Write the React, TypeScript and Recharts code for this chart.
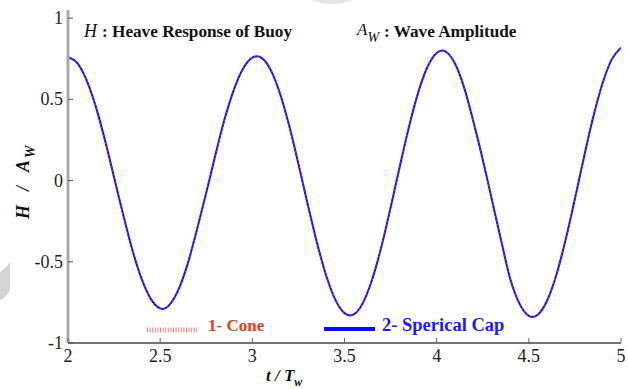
import {
  LineChart, Line, XAxis, YAxis,
} from 'recharts'

// t / T_w sample points
const tValues = [
  2.0, 2.05, 2.1, 2.15, 2.2, 2.25, 2.3, 2.35, 2.4, 2.45, 2.5, 2.515,
  2.55, 2.6, 2.65, 2.7, 2.75, 2.8, 2.85, 2.9, 2.95, 3.0, 3.025,
  3.05, 3.1, 3.15, 3.2, 3.25, 3.3, 3.35, 3.4, 3.45, 3.5, 3.53,
  3.55, 3.6, 3.65, 3.7, 3.75, 3.8, 3.85, 3.9, 3.95, 4.0, 4.03,
  4.05, 4.1, 4.15, 4.2, 4.25, 4.3, 4.35, 4.4, 4.45, 4.5, 4.52,
  4.55, 4.6, 4.65, 4.7, 4.75, 4.8, 4.85, 4.9, 4.95, 5.0,
]

// H / A_w for the spherical cap buoy
const capValues = [
  0.76, 0.724, 0.62, 0.458, 0.251, 0.02, -0.213, -0.43, -0.607, -0.73, -0.787, -0.79,
  -0.765, -0.67, -0.51, -0.3, -0.075, 0.16, 0.38, 0.56, 0.69, 0.757, 0.765,
  0.755, 0.68, 0.536, 0.337, 0.103, -0.144, -0.38, -0.583, -0.733, -0.816, -0.83,
  -0.824, -0.753, -0.609, -0.408, -0.167, 0.087, 0.332, 0.543, 0.699, 0.785, 0.8,
  0.793, 0.719, 0.569, 0.359, 0.13, -0.12, -0.37, -0.609, -0.759, -0.833, -0.84,
  -0.825, -0.737, -0.578, -0.362, -0.112, 0.148, 0.394, 0.599, 0.746, 0.818,
]

// H / A_w for the cone buoy (practically on top of the cap curve)
const coneValues = [
  0.758, 0.722, 0.618, 0.456, 0.25, 0.019, -0.214, -0.431, -0.608, -0.731, -0.788, -0.791,
  -0.766, -0.671, -0.511, -0.301, -0.076, 0.159, 0.379, 0.559, 0.689, 0.756, 0.764,
  0.754, 0.679, 0.535, 0.336, 0.102, -0.145, -0.381, -0.584, -0.734, -0.817, -0.831,
  -0.825, -0.754, -0.61, -0.409, -0.168, 0.086, 0.331, 0.542, 0.698, 0.784, 0.799,
  0.792, 0.718, 0.568, 0.358, 0.129, -0.121, -0.371, -0.61, -0.76, -0.834, -0.841,
  -0.826, -0.738, -0.579, -0.363, -0.113, 0.147, 0.393, 0.598, 0.745, 0.817,
]

const xTicks = [2, 2.5, 3, 3.5, 4, 4.5, 5]
const yTicks = [-1, -0.5, 0, 0.5, 1]

const data = tValues.map((t, i) => ({ t, cap: capValues[i], cone: coneValues[i] }))

const SERIF = '"Liberation Serif", "DejaVu Serif", serif'
const TICK_COLOR = '#222'

function BottomTick({ x, y, payload }: any) {
  return (
    <g>
      <line x1={x} y1={y} x2={x} y2={y - 5} stroke="#666" strokeWidth={1} />
      <text x={x} y={y + 19} textAnchor="middle" fontFamily={SERIF} fontSize={18} fill={TICK_COLOR}>
        {payload.value}
      </text>
    </g>
  )
}

function TopTick({ x, y }: any) {
  return <line x1={x} y1={y} x2={x} y2={y + 5} stroke="#666" strokeWidth={1} />
}

function LeftTick({ x, y, payload }: any) {
  return (
    <g>
      <line x1={x} y1={y} x2={x + 5} y2={y} stroke="#555" strokeWidth={1} />
      <text x={x - 5} y={y + 6} textAnchor="end" fontFamily={SERIF} fontSize={18} fill={TICK_COLOR}>
        {payload.value}
      </text>
    </g>
  )
}

function RightTick({ x, y }: any) {
  return <line x1={x} y1={y} x2={x - 5} y2={y} stroke="#555" strokeWidth={1} />
}

function LegendBox() {
  return (
    <div
      style={{
        position: 'absolute', left: 145, top: 316, width: 420, height: 20,
        fontFamily: SERIF, fontWeight: 'bold', fontSize: 17, lineHeight: '20px',
      }}
    >
      <svg width={60} height={10} style={{ position: 'absolute', left: 2, top: 9 }}>
        <line x1={0} y1={5} x2={50} y2={5} stroke="#f08080" strokeWidth={5} strokeDasharray="1 1.6" />
      </svg>
      <span style={{ position: 'absolute', left: 63, top: 0, color: '#e2401c' }}>1- Cone</span>
      <svg width={60} height={10} style={{ position: 'absolute', left: 179, top: 8 }}>
        <line x1={0} y1={5} x2={51} y2={5} stroke="#0a0aff" strokeWidth={4} />
      </svg>
      <span style={{ position: 'absolute', left: 237, top: -1, color: '#1a1aff', fontSize: 18.5 }}>2- Sperical Cap</span>
    </div>
  )
}

export default function App() {
  return (
    <div style={{ position: 'absolute', left: 0, top: 0, width: 629, height: 389, background: '#fff' }}>
      <svg width={629} height={389} style={{ position: 'absolute', left: 0, top: 0 }}>
        {/* faint watermark shapes behind the figure */}
        <path d="M0 272 Q8 266 10 262 L10 290 Q6 298 0 300 Z" fill="#d4d4d4" />
        <path d="M312 0 Q332 8 352 0 Z" fill="#e4e4e4" />
      </svg>
      <LineChart
        width={629}
        height={389}
        data={data}
        margin={{ top: 10, right: 8, left: 0, bottom: 0 }}
        style={{ position: 'absolute', left: 0, top: 0 }}
      >
        <XAxis
          dataKey="t"
          type="number"
          domain={[2, 5]}
          ticks={xTicks}
          allowDataOverflow
          height={46}
          tickSize={0}
          tickMargin={0}
          tickLine={false}
          axisLine={{ stroke: '#444', strokeWidth: 1.5 }}
          tick={BottomTick}
        />
        <XAxis
          xAxisId="top"
          orientation="top"
          dataKey="t"
          type="number"
          domain={[2, 5]}
          ticks={xTicks}
          height={0}
          tickSize={0}
          tickMargin={0}
          tickLine={false}
          axisLine={{ stroke: '#9a9a9a', strokeWidth: 2 }}
          tick={TopTick}
        />
        <YAxis
          type="number"
          domain={[-1, 1.05]}
          ticks={yTicks}
          allowDataOverflow
          width={68}
          tickSize={0}
          tickMargin={0}
          tickLine={false}
          axisLine={{ stroke: '#aaa', strokeWidth: 3 }}
          tick={LeftTick}
        />
        <YAxis
          yAxisId="right"
          orientation="right"
          type="number"
          domain={[-1, 1.05]}
          ticks={yTicks}
          width={0}
          tickSize={0}
          tickMargin={0}
          tickLine={false}
          axisLine={{ stroke: '#999', strokeWidth: 2 }}
          tick={RightTick}
        />
        <Line
          type="monotone"
          dataKey="cap"
          stroke="#1010ff"
          strokeWidth={2}
          dot={false}
          isAnimationActive={false}
        />
        <Line
          type="monotone"
          dataKey="cone"
          stroke="#ff2a2a"
          strokeWidth={1.6}
          strokeDasharray="1 3"
          dot={false}
          isAnimationActive={false}
        />
        <text x={84} y={37} fontFamily={SERIF} fontSize={17.2} fontWeight="bold" fill="#111">
          <tspan fontStyle="italic" fontWeight="normal" fontSize={18}>H</tspan>
          <tspan dx={5}>: Heave Response of Buoy</tspan>
        </text>
        <text x={357} y={37} fontFamily={SERIF} fontSize={17.2} fontWeight="bold" fill="#111">
          <tspan fontStyle="italic" fontWeight="normal" fontSize={17} dy={-2}>A</tspan>
          <tspan fontStyle="italic" fontWeight="normal" fontSize={14} dy={7}>W</tspan>
          <tspan dx={5} dy={-5}>: Wave Amplitude</tspan>
        </text>
        <text x={266} y={381} fontFamily={SERIF} fontSize={17} fontWeight="bold" fontStyle="italic" fill="#111">
          t / T<tspan fontSize={12} dy={5}>w</tspan>
        </text>
        <text
          x={29}
          y={219}
          transform="rotate(-90 29 219)"
          fontFamily={SERIF}
          fontSize={18}
          fontWeight="bold"
          fontStyle="italic"
          fill="#111"
        >
          H<tspan dx={14}>/</tspan>
          <tspan dx={14}>A</tspan>
          <tspan fontSize={14} dy={6} dx={2}>W</tspan>
        </text>
      </LineChart>
      <LegendBox />
    </div>
  )
}
